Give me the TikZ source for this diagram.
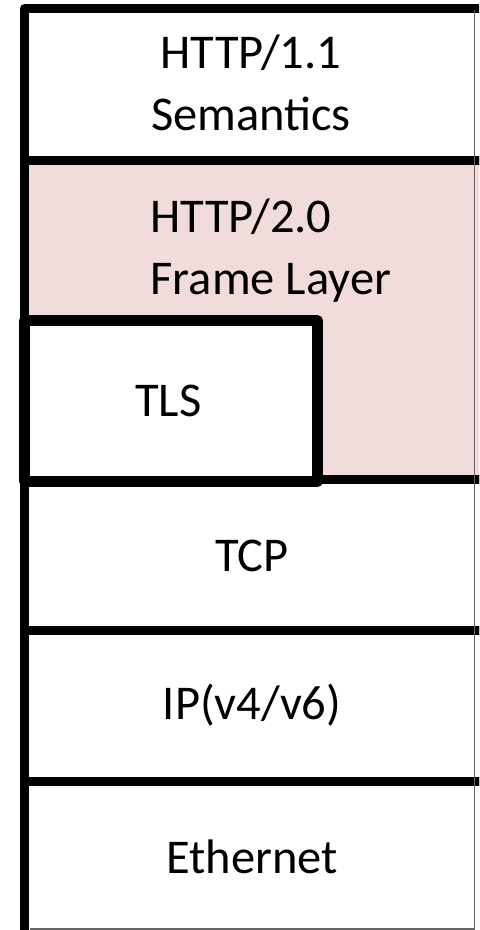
\documentclass[tikz,border=0pt]{standalone}
\usepackage{fontspec}
\setmainfont{Carlito}
\definecolor{framepink}{RGB}{242,220,219}

\begin{document}
\begin{tikzpicture}[
		layer/.style={line width=0.09cm, line join=round},
		caption/.style={font=\fontsize{13.8}{17.6}\selectfont, align=center, inner sep=0pt}
	]
		\clip (0, 0) rectangle (4.79, 9.30);
		%%%%% START %%%%%
		% the stack, right and bottom edges run off the page
		\draw[layer] (0.245, 9.215) rectangle (4.84, 7.69);
		\draw[layer, fill=framepink] (0.245, 7.69) rectangle (4.84, 4.505);
		\draw[layer] (0.245, 4.505) rectangle (4.84, 2.99);
		\draw[layer] (0.245, 2.99) rectangle (4.84, 1.48);
		\draw[layer] (0.245, 1.48) rectangle (4.84, -0.06);
		\draw[line width=0.5pt, black!60] (4.745, 9.2) -- (4.745, 0.012) -- (0.3, 0.012);
		
		% TLS sits inside the frame layer
		\draw[line width=0.11cm, line join=round, fill=white] (0.245, 6.09) rectangle (3.175, 4.485);
		
		\node[caption] (semantics) at (2.51, 8.47) {HTTP/1.1\\Semantics};
		\node[caption, align=left, anchor=west] (frames) at (1.50, 6.79) {HTTP/2.0\\Frame Layer};
		\node[caption] (tls) at (1.685, 5.29) {TLS};
		\node[caption] (tcp) at (2.52, 3.74) {TCP};
		\node[caption] (ip) at (2.52, 2.25) {IP(v4/v6)};
		\node[caption] (ethernet) at (2.52, 0.73) {Ethernet};
		%%%%% END %%%%%
	\end{tikzpicture}
\end{document}
